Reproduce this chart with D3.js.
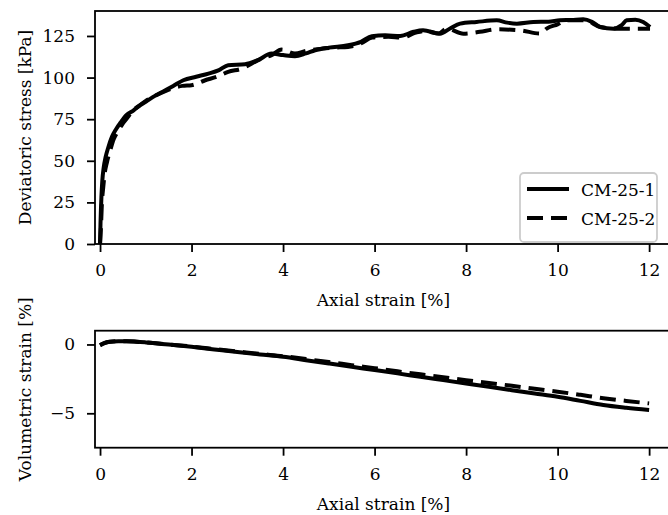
<!DOCTYPE html>
<html>
<head>
<meta charset="utf-8">
<script src="https://cdn.jsdelivr.net/npm/d3@7"></script>
<style>
  body { margin: 0; background: #fff; }
  text { font-family: "DejaVu Serif", serif; fill: #000; }
</style>
</head>
<body>
<div id="vis"></div>
<script>
const FRAME_WIDTH = 668;
const FRAME_HEIGHT = 515;
const FONT = 17;

// series
const SERIES_NAMES = ['CM-25-1', 'CM-25-2'];

const strain1 = [0, 0.01, 0.03, 0.05, 0.08, 0.12, 0.18, 0.26, 0.35, 0.45, 0.58, 0.72, 0.88, 1.0, 1.2, 1.4, 1.6, 1.82, 2.1, 2.37, 2.6, 2.8, 3.17, 3.45, 3.75, 4.0, 4.26, 4.5, 4.7, 5.0, 5.42, 5.7, 5.94, 6.23, 6.56, 6.85, 7.06, 7.43, 7.65, 7.87, 8.23, 8.67, 8.9, 9.11, 9.47, 9.8, 10.05, 10.3, 10.56, 10.75, 10.93, 11.22, 11.4, 11.51, 11.7, 11.87, 12.02];
const stress1 = [0, 12, 28, 38, 46, 52, 58, 64.4, 69, 73, 77.5, 80, 83.5, 85.5, 89, 92, 95, 98.4, 100.5, 102.4, 104.5, 107.4, 108, 110.5, 114.4, 113.5, 112.8, 114.5, 116.4, 118, 119.4, 121.5, 124.8, 125.4, 125, 127.5, 128.4, 126.4, 129.5, 132.4, 133.4, 134.4, 133, 132.4, 133.4, 133.6, 134.4, 134.6, 135, 133.5, 130.4, 129.4, 131.5, 134.4, 134.8, 133.4, 130.4];

const strain2 = [0, 0.02, 0.04, 0.07, 0.1, 0.15, 0.22, 0.3, 0.4, 0.5, 0.6, 0.71, 0.85, 1.0, 1.2, 1.4, 1.57, 1.8, 2.0, 2.3, 2.55, 2.8, 3.1, 3.5, 3.75, 3.97, 4.26, 4.5, 4.85, 5.1, 5.42, 5.7, 5.95, 6.3, 6.6, 6.9, 7.1, 7.4, 7.58, 7.94, 8.3, 8.67, 9.18, 9.62, 9.76, 10.0, 10.2, 10.6, 10.93, 11.3, 11.7, 12.02];
const stress2 = [0, 10, 24, 34, 42, 49, 56, 63, 68, 72.5, 76, 80, 83, 86, 89, 91.5, 93.4, 95, 95.4, 98.4, 100.5, 103.4, 105.4, 111, 113.5, 116.8, 114.4, 116, 117.4, 118, 118.4, 120.5, 124, 124.5, 124, 127, 128, 126.5, 129.4, 126.4, 127.5, 129, 128.4, 126.4, 129.4, 132, 134.4, 134.4, 130.4, 129.4, 129.4, 129.4];

const volX = [0, 0.1, 0.22, 0.4, 0.58, 0.8, 1.0, 1.5, 2.0, 2.5, 3.0, 3.5, 4.0, 4.5, 5.0, 5.5, 6.0, 6.5, 7.0, 7.5, 8.0, 8.5, 9.0, 9.5, 10.0, 10.5, 11.0, 11.5, 12.0];
const vol1 = [-0.05, 0.1, 0.19, 0.23, 0.24, 0.2, 0.15, 0.0, -0.17, -0.36, -0.55, -0.73, -0.9, -1.14, -1.38, -1.62, -1.86, -2.1, -2.35, -2.59, -2.83, -3.07, -3.32, -3.56, -3.8, -4.1, -4.4, -4.6, -4.76];
const vol2 = [-0.05, 0.12, 0.2, 0.24, 0.24, 0.2, 0.15, 0.0, -0.15, -0.33, -0.51, -0.69, -0.85, -1.06, -1.27, -1.5, -1.72, -1.95, -2.17, -2.38, -2.59, -2.8, -3.0, -3.22, -3.43, -3.66, -3.9, -4.1, -4.28];

const X_TICKS = [0, 2, 4, 6, 8, 10, 12];
const STRESS_TICKS = [0, 25, 50, 75, 100, 125];
const VOL_TICKS = [0, -5];

const DASH = '16,8';
const LW = 4;

const svg = d3.select('#vis')
    .append('svg')
        .attr('width', FRAME_WIDTH)
        .attr('height', FRAME_HEIGHT);

svg.append('rect')
    .attr('width', FRAME_WIDTH)
    .attr('height', FRAME_HEIGHT)
    .attr('fill', '#fff');

const LEFT = 95;
const RIGHT = 672;   // right spine is cropped off in the original

const X_SCALE = d3.scaleLinear()
    .domain([-0.11, 12.5])
    .range([LEFT, RIGHT]);

// draws one panel, returns its y scale
function panel(top, bottom, yDomain, yTicks, yLabel, xLabelY) {
    const Y_SCALE = d3.scaleLinear()
        .domain(yDomain)
        .range([bottom, top]);

    const xAxis = svg.append('g')
        .attr('transform', 'translate(0,' + bottom + ')')
        .call(d3.axisBottom(X_SCALE).tickValues(X_TICKS).tickSize(8).tickSizeOuter(0).tickPadding(12));
    xAxis.select('.domain').remove();

    const yAxis = svg.append('g')
        .attr('transform', 'translate(' + LEFT + ',0)')
        .call(d3.axisLeft(Y_SCALE).tickValues(yTicks).tickSize(8).tickSizeOuter(0).tickPadding(12));
    yAxis.select('.domain').remove();

    svg.selectAll('.tick line')
        .attr('stroke', '#000')
        .attr('stroke-width', 1.8);
    svg.selectAll('.tick text')
        .attr('font-size', FONT + 'px')
        .attr('font-family', '"DejaVu Serif", serif');

    // frame
    svg.append('rect')
        .attr('x', LEFT)
        .attr('y', top)
        .attr('width', RIGHT - LEFT)
        .attr('height', bottom - top)
        .attr('fill', 'none')
        .attr('stroke', '#000')
        .attr('stroke-width', 1.8);

    svg.append('text')
        .attr('x', (LEFT + RIGHT) / 2)
        .attr('y', xLabelY)
        .attr('text-anchor', 'middle')
        .attr('font-size', FONT + 'px')
        .text('Axial strain [%]');

    svg.append('text')
        .attr('transform', 'translate(31,' + (top + bottom) / 2 + ') rotate(-90)')
        .attr('text-anchor', 'middle')
        .attr('font-size', FONT + 'px')
        .text(yLabel);

    return Y_SCALE;
}

function drawLine(xs, ys, yScale, dashed) {
    const line = d3.line()
        .x(i => X_SCALE(xs[i]))
        .y(i => yScale(ys[i]))
        .curve(d3.curveMonotoneX);
    svg.append('path')
        .attr('d', line(d3.range(xs.length)))
        .attr('fill', 'none')
        .attr('stroke', '#000')
        .attr('stroke-width', LW)
        .attr('stroke-linejoin', 'round')
        .attr('stroke-dasharray', dashed ? DASH : null);
}

// Top: deviatoric stress
const Y1 = panel(11, 244, [0, 140], STRESS_TICKS, 'Deviatoric stress [kPa]', 306);
drawLine(strain1, stress1, Y1, false);
drawLine(strain2, stress2, Y1, true);

// legend
const legend = svg.append('g');
legend.append('rect')
    .attr('x', 520)
    .attr('y', 173)
    .attr('width', 137)
    .attr('height', 69)
    .attr('rx', 4)
    .attr('fill', 'rgba(255,255,255,0.8)')
    .attr('stroke', '#cccccc')
    .attr('stroke-width', 1.8);

SERIES_NAMES.forEach((name, i) => {
    const y = 189 + i * 29;
    legend.append('line')
        .attr('x1', 527).attr('x2', 569)
        .attr('y1', y).attr('y2', y)
        .attr('stroke', '#000')
        .attr('stroke-width', LW)
        .attr('stroke-dasharray', i === 1 ? DASH : null);
    legend.append('text')
        .attr('x', 581)
        .attr('y', y + 7)
        .attr('font-size', FONT + 'px')
        .text(name);
});

// Bottom: volumetric strain
const Y2 = panel(330.7, 447.7, [-7.5, 1], VOL_TICKS, 'Volumetric strain [%]', 510);
drawLine(volX, vol1, Y2, false);
drawLine(volX, vol2, Y2, true);
</script>
</body>
</html>
